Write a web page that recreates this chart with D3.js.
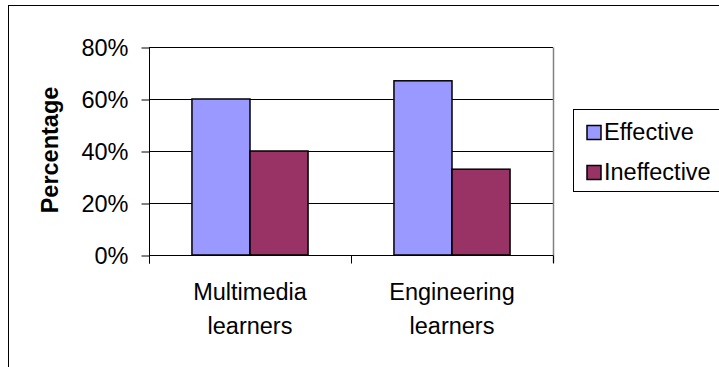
<!DOCTYPE html>
<html>
<head>
<meta charset="utf-8">
<script src="https://cdn.jsdelivr.net/npm/d3@7"></script>
<style>
html,body{margin:0;padding:0;background:#fff;}
svg{display:block;font-family:Arial,"Liberation Sans",sans-serif;}
</style>
</head>
<body>
<svg id="chart" width="719" height="367"></svg>
<script>
const categories = [["Multimedia","learners"],["Engineering","learners"]];
const seriesNames = ["Effective","Ineffective"];
const effective = [60, 67];
const ineffective = [40, 33];
const yTicks = [0, 20, 40, 60, 80];
const colors = ["#9999FF", "#993366"];

const svg = d3.select("#chart");
const FS = 23.5;

// outer frame
svg.append("rect").attr("x",8.5).attr("y",5.5).attr("width",712).attr("height",400)
  .attr("fill","none").attr("stroke","#000").attr("stroke-width",1);

const plot = {left:149, right:553, top:47, bottom:255};
const catKeys = categories.map(c => c.join(" "));
const x0 = d3.scaleBand().domain(catKeys).range([plot.left, plot.right]).paddingInner(0).paddingOuter(0);
const x1 = d3.scaleBand().domain(seriesNames).range([0, x0.bandwidth()]).paddingInner(0).paddingOuter(0.74);
const y = d3.scaleLinear().domain([0, 80]).range([plot.bottom, plot.top]);

// gridlines
svg.append("g").selectAll("line").data(yTicks.filter(d=>d>0)).join("line")
  .attr("x1", plot.left).attr("x2", plot.right)
  .attr("y1", d=>Math.round(y(d))+0.5).attr("y2", d=>Math.round(y(d))+0.5)
  .attr("stroke","#000").attr("stroke-width",1);

// right plot border
svg.append("line").attr("x1",plot.right+0.5).attr("x2",plot.right+0.5)
  .attr("y1",Math.round(y(80))+0.5).attr("y2",plot.bottom+8)
  .attr("stroke","#808080").attr("stroke-width",1.5);

// bars
const rows = catKeys.map((k,i)=>({key:k, vals:[effective[i], ineffective[i]]}));
const grp = svg.append("g").selectAll("g").data(rows).join("g")
  .attr("transform", d=>`translate(${x0(d.key)},0)`);
grp.selectAll("rect").data(d=>d.vals.map((v,j)=>({name:seriesNames[j], v, j}))).join("rect")
  .attr("x", d=>x1(d.name)).attr("width", x1.bandwidth())
  .attr("y", d=>y(d.v)).attr("height", d=>y(0)-y(d.v))
  .attr("fill", d=>colors[d.j]).attr("stroke","#000").attr("stroke-width",1.5);

// y axis
const yAxis = d3.axisLeft(y).tickValues(yTicks).tickFormat(d=>d+"%").tickSize(8).tickPadding(13);
const ya = svg.append("g").attr("transform",`translate(${plot.left+0.5},0.5)`).call(yAxis);
ya.select(".domain").attr("d", `M0,${y(80)}V${plot.bottom+8}`).attr("stroke","#000");
ya.selectAll(".tick line").attr("stroke","#000");
ya.selectAll(".tick text").attr("font-size",FS).attr("fill","#000").attr("font-family","Arial,'Liberation Sans',sans-serif").attr("dy","0.35em");

// x axis
const xa = svg.append("g").attr("transform",`translate(0,${plot.bottom+0.5})`);
xa.append("line").attr("x1",plot.left).attr("x2",plot.right).attr("stroke","#000");
const bounds = [plot.left, x0(catKeys[1]), plot.right];
xa.selectAll("line.t").data(bounds).join("line").attr("class","t")
  .attr("x1",d=>Math.round(d)+0.5).attr("x2",d=>Math.round(d)+0.5).attr("y1",0).attr("y2",8).attr("stroke","#000");
xa.selectAll("text").data(categories).join("text")
  .attr("x",(d,i)=>x0(catKeys[i])+x0.bandwidth()/2).attr("y",44)
  .attr("text-anchor","middle").attr("font-size",FS).attr("fill","#000")
  .selectAll("tspan").data(d=>d).join("tspan")
  .attr("x",function(){return this.parentNode.getAttribute("x");})
  .attr("dy",(d,i)=>i===0?0:34).text(d=>d);

// y title
svg.append("text").attr("transform","translate(58,150) rotate(-90)")
  .attr("text-anchor","middle").attr("font-size",FS).attr("font-weight","bold").text("Percentage");

// legend
const leg = svg.append("g");
leg.append("rect").attr("x",573.5).attr("y",109.5).attr("width",150).attr("height",82)
  .attr("fill","#fff").attr("stroke","#000").attr("stroke-width",1);
const li = leg.selectAll("g").data(seriesNames).join("g")
  .attr("transform",(d,i)=>`translate(0,${i*40})`);
li.append("rect").attr("x",587).attr("y",125.5).attr("width",14).attr("height",14)
  .attr("fill",(d,i)=>colors[i]).attr("stroke","#000").attr("stroke-width",1.5);
li.append("text").attr("x",604).attr("y",139.5).attr("font-size",FS).text(d=>d);
</script>
</body>
</html>
